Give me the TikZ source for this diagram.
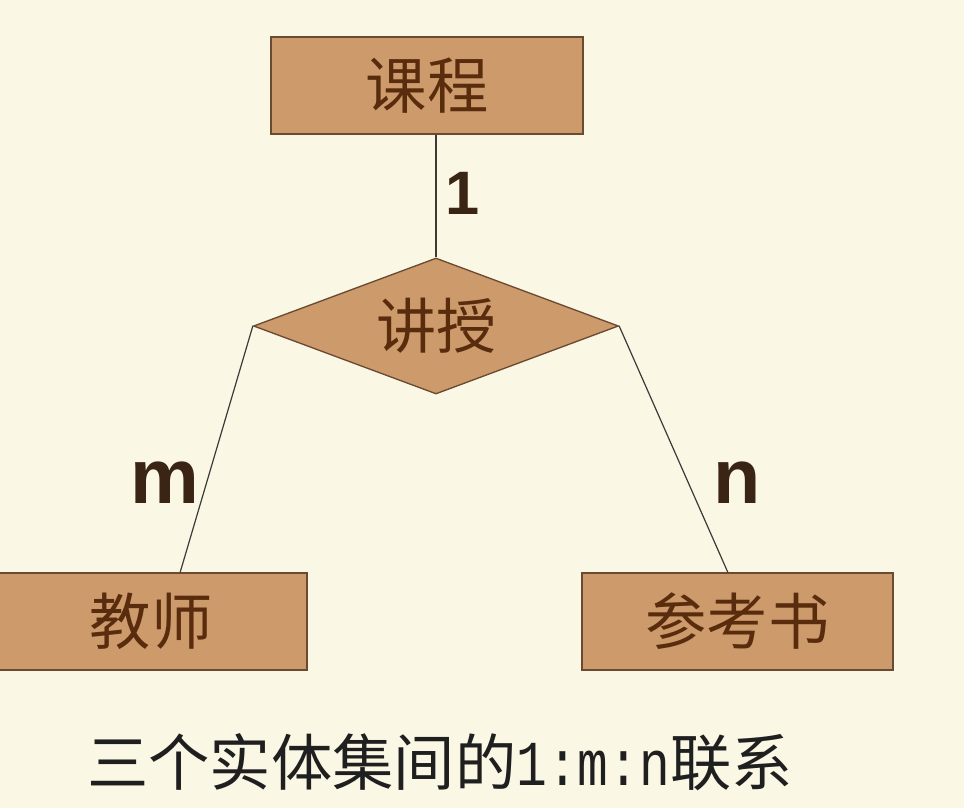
\documentclass[tikz,border=0pt]{standalone}
\usepackage{fontspec}
\newfontfamily\cjk{Noto Sans CJK SC}
\newfontfamily\labfont{Liberation Sans}
\newfontfamily\capmono[FakeStretch=0.8]{Liberation Mono}
\usetikzlibrary{shapes.geometric,calc}
\definecolor{bgc}{HTML}{FBF7E5}
\definecolor{fillc}{HTML}{CD9B6B}
\definecolor{edgec}{HTML}{6A4A30}
\definecolor{txtc}{HTML}{5A2C0E}
\definecolor{labc}{HTML}{3A2414}
\definecolor{linec}{HTML}{3A3A3A}
\begin{document}
\begin{tikzpicture}[x=0.75pt,y=-0.75pt,
  entity/.style={rectangle,draw=edgec,line width=1.1pt,fill=fillc,inner sep=0pt,
    font=\cjk\fontsize{46}{46}\selectfont,text=txtc},
  relation/.style={diamond,draw=edgec,line width=1pt,fill=fillc,inner sep=0pt,
    aspect=2.68,minimum width=273.75pt,minimum height=102pt,
    font=\cjk\fontsize{45}{45}\selectfont,text=txtc},
  card/.style={font=\labfont\bfseries,text=labc,inner sep=0pt},
  conn/.style={draw=linec,line width=0.9pt}]
\fill[bgc] (0,0) rectangle (964,808);
\useasboundingbox (0,0) rectangle (964,808);
\node[entity,minimum width=234pt,minimum height=72.75pt] (course) at (427,85.5) {课程};
\node[relation] (rel) at (436,326) {讲授};
\node[entity,minimum width=234pt,minimum height=72.75pt] (teacher) at (151,621.5) {教师};
\node[entity,minimum width=233.25pt,minimum height=72.75pt] (book) at (737.5,621.5) {参考书};
\draw[conn] (rel.north) -- (rel.north |- course.south);
\draw[conn] (rel.west) -- ($(teacher.north west)!0.593!(teacher.north east)$);
\draw[conn] (rel.east) -- ($(book.north west)!0.469!(book.north east)$);
\node[card,font=\labfont\bfseries\fontsize{46}{46}\selectfont] (l1) at (463,193) {1};
\node[card,font=\labfont\bfseries\fontsize{58}{58}\selectfont] (lm) at (165,483) {m};
\node[card,font=\labfont\bfseries\fontsize{58}{58}\selectfont] (ln) at (737,483) {n};
\node[inner sep=0pt,text=black!88,font=\cjk\fontsize{46}{46}\selectfont] (cap) at (440,762)
  {三个实体集间的{\capmono\fontsize{48}{48}\selectfont 1:m:n}联系};
\end{tikzpicture}
\end{document}
